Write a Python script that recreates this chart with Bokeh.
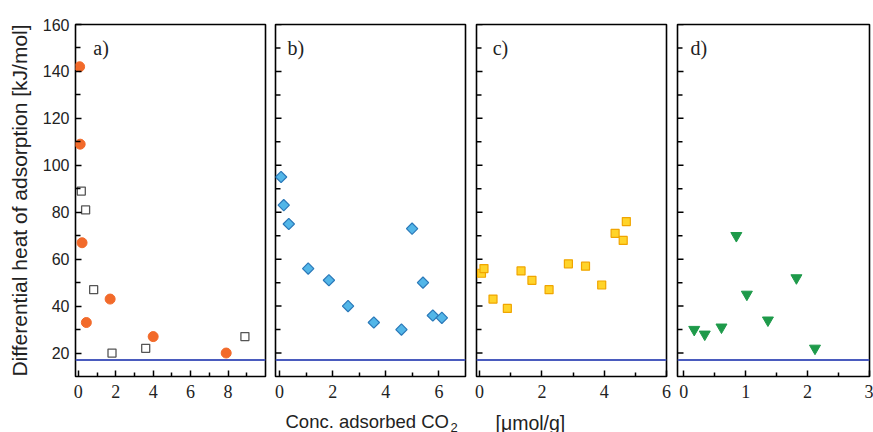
import math
from bokeh.plotting import figure
from bokeh.layouts import column, row
from bokeh.models import FixedTicker, Span, Label
from bokeh.embed import file_html
from bokeh.resources import INLINE

# ---- data ----
a_solid_x = [0.07, 0.10, 0.20, 0.43, 1.70, 4.00, 7.90]
a_solid_y = [142, 109, 67, 33, 43, 27, 20]
a_open_x = [0.16, 0.39, 0.82, 1.80, 3.60, 8.90]
a_open_y = [89, 81, 47, 20, 22, 27]
b_x = [0.06, 0.16, 0.35, 1.08, 1.86, 2.58, 3.55, 4.59, 4.99, 5.40, 5.77, 6.11]
b_y = [95, 83, 75, 56, 51, 40, 33, 30, 73, 50, 36, 35]
c_x = [0.06, 0.14, 0.43, 0.89, 1.33, 1.68, 2.23, 2.85, 3.40, 3.92, 4.35, 4.61, 4.71]
c_y = [54, 56, 43, 39, 55, 51, 47, 58, 57, 49, 71, 68, 76]
d_x = [0.17, 0.34, 0.61, 0.85, 1.02, 1.36, 1.82, 2.12]
d_y = [30, 28, 31, 70, 45, 34, 52, 22]
baseline_y = 17

panel_labels = ["a)", "b)", "c)", "d)"]
y_ticks = [20, 40, 60, 80, 100, 120, 140, 160]
y_minor = [30, 50, 70, 90, 110, 130, 150]
x_ticks = [[0, 2, 4, 6, 8], [0, 2, 4, 6], [0, 2, 4, 6], [0, 1, 2, 3]]
x_minor = [[1, 3, 5, 7, 9], [1, 3, 5], [1, 3, 5], [0.5, 1.5, 2.5]]
x_ranges = [(-0.15, 10.0), (-0.15, 7.0), (-0.1, 6.0), (-0.1, 3.0)]
label_pos = [(0.8, 150), (0.3, 150), (0.42, 150), (0.11, 150)]

y_title = "Differential heat of adsorption [kJ/mol]"
x_title_main = "Conc. adsorbed CO"
x_title_sub = "2"
x_title_unit = "[μmol/g]"

widths = [270, 200, 201, 202]
lefts = [75, 5, 6, 6]
rights = [5, 5, 5, 4]
TOP = 24
FRAME_H = 352
BOTTOM = 28
FIG_H = TOP + FRAME_H + BOTTOM

figs = []
for i in range(4):
    p = figure(width=widths[i], height=FIG_H, x_range=x_ranges[i], y_range=(10, 160),
               output_backend="svg", toolbar_location=None,
               min_border_left=lefts[i], min_border_right=rights[i],
               min_border_top=TOP, min_border_bottom=BOTTOM)
    p.background_fill_color = "white"
    p.border_fill_color = "white"
    p.outline_line_color = "black"
    p.outline_line_width = 1.6
    p.xgrid.visible = False
    p.ygrid.visible = False

    xa = p.xaxis[0]
    xa.ticker = FixedTicker(ticks=x_ticks[i], minor_ticks=x_minor[i])
    xa.major_tick_in = 6
    xa.major_tick_out = 0
    xa.minor_tick_in = 4
    xa.minor_tick_out = 0
    xa.major_tick_line_width = 1.5
    xa.minor_tick_line_width = 1.5
    xa.axis_line_color = None
    xa.major_label_text_font = "Liberation Serif"
    xa.major_label_text_font_size = "18px"
    xa.major_label_text_color = "#222222"
    xa.major_label_standoff = 8

    ya = p.yaxis[0]
    if i == 0:
        ya.ticker = FixedTicker(ticks=y_ticks, minor_ticks=y_minor)
        ya.major_tick_in = 6
        ya.major_tick_out = 0
        ya.minor_tick_in = 5
        ya.minor_tick_out = 0
        ya.major_tick_line_width = 1.5
        ya.minor_tick_line_width = 1.5
        ya.axis_line_color = None
        ya.major_label_text_font = "Liberation Sans"
        ya.major_label_text_font_size = "16px"
        ya.major_label_text_color = "#222222"
        ya.major_label_standoff = 6
        ya.axis_label = y_title
        ya.axis_label_text_font = "Liberation Sans"
        ya.axis_label_text_font_size = "21px"
        ya.axis_label_text_font_style = "normal"
        ya.axis_label_text_color = "#222222"
        ya.axis_label_standoff = 9
    else:
        ya.visible = False
        x0 = x_ranges[i][0]
        p.ray(x=[x0] * len(y_ticks), y=y_ticks, length=6, length_units="screen",
              angle=0, line_color="black", line_width=1.5)
        p.ray(x=[x0] * len(y_minor), y=y_minor, length=5, length_units="screen",
              angle=0, line_color="black", line_width=1.5)

    p.add_layout(Span(location=baseline_y, dimension="width",
                      line_color="#4a5bbe", line_width=2))
    lx, ly = label_pos[i]
    p.add_layout(Label(x=lx, y=ly, text=panel_labels[i], text_font="Liberation Serif",
                       text_font_size="20px", text_color="#222222",
                       text_baseline="middle", text_align="left"))
    figs.append(p)

pa, pb, pc, pd = figs
pa.scatter(a_open_x, a_open_y, marker="square", size=8, fill_color="white",
           line_color="#555555", line_width=1.3)
pa.scatter(a_solid_x, a_solid_y, marker="circle", size=10, fill_color="#f26a2a",
           line_color="#f26a2a")
pb.scatter(b_x, b_y, marker="square", size=8, angle=math.pi / 4, fill_color="#52b6e8",
           line_color="#2a78b8", line_width=1.2)
pc.scatter(c_x, c_y, marker="square", size=8, fill_color="#ffd42a",
           line_color="#f0a500", line_width=1.2)
pd.scatter(d_x, d_y, marker="inverted_triangle", size=11, fill_color="#1e9a4a",
           line_color="#1e9a4a")

# x-axis title strip
TH = 432 - FIG_H
t = figure(width=873, height=TH, x_range=(0, 873), y_range=(0, TH),
           output_backend="svg", toolbar_location=None,
           min_border=0)
t.axis.visible = False
t.grid.visible = False
t.outline_line_color = None
t.add_layout(Label(x=285, y=11, x_units="screen", y_units="screen",
                   text=x_title_main, text_font="Liberation Sans",
                   text_font_size="18.5px", text_color="#222222",
                   text_baseline="alphabetic"))
t.add_layout(Label(x=450, y=5, x_units="screen", y_units="screen",
                   text=x_title_sub, text_font="Liberation Sans",
                   text_font_size="13px", text_color="#222222",
                   text_baseline="alphabetic"))
t.add_layout(Label(x=495, y=10, x_units="screen", y_units="screen",
                   text=x_title_unit, text_font="Liberation Sans",
                   text_font_size="19.5px", text_color="#222222",
                   text_baseline="alphabetic"))

layout = column(row(*figs, spacing=0), t, spacing=0)
open("out.html", "w").write(file_html(layout, INLINE))
